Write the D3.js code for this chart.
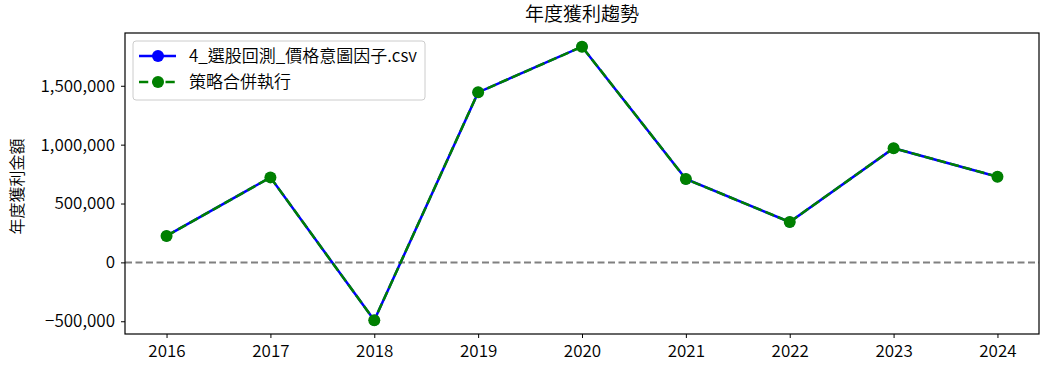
<!DOCTYPE html>
<html>
<head>
<meta charset="utf-8">
<script src="https://cdn.jsdelivr.net/npm/d3@7"></script>
<style>
  body { margin: 0; background: #fff; }
  svg text { font-family: "Noto Sans CJK TC", "Noto Sans", sans-serif; font-weight: 350; fill: #000; }
</style>
</head>
<body>
<div id="vizholder"></div>
<script>
var years = [2016, 2017, 2018, 2019, 2020, 2021, 2022, 2023, 2024];
var profitCsv = [225000, 722000, -492000, 1444000, 1832000, 708000, 343000, 970000, 728000];
var profitMerged = [225000, 722000, -492000, 1444000, 1832000, 708000, 343000, 970000, 728000];
var yTicks = [-500000, 0, 500000, 1000000, 1500000];
var seriesNames = ["4_選股回測_價格意圖因子.csv", "策略合併執行"];

var W = 1049, H = 370;
var margin = {top: 33, right: 10, bottom: 36, left: 125};
var width = W - margin.left - margin.right,
    height = H - margin.top - margin.bottom;

var svg = d3.select("#vizholder").append("svg")
  .attr("width", W).attr("height", H);

var g = svg.append("g")
  .attr("transform", "translate(" + margin.left + "," + margin.top + ")");

var x = d3.scaleLinear().domain([2016 - 0.4, 2024 + 0.4]).range([0, width]);
var all = profitCsv.concat(profitMerged);
var lo = d3.min(all), hi = d3.max(all), pad = (hi - lo) * 0.05;
var y = d3.scaleLinear().domain([lo - pad, hi + pad]).range([height, 0]);

// zero line
g.append("line")
  .attr("x1", 0).attr("x2", width)
  .attr("y1", y(0)).attr("y2", y(0))
  .attr("stroke", "#808080").attr("stroke-width", 2)
  .attr("stroke-dasharray", "7,3.5");

var line = d3.line()
  .x(function(d, i){ return x(years[i]); })
  .y(function(d){ return y(d); });

// blue solid series
g.append("path").datum(profitCsv)
  .attr("d", line).attr("fill", "none")
  .attr("stroke", "#0000ff").attr("stroke-width", 2.5);
g.selectAll(".dotA").data(profitCsv).enter().append("circle")
  .attr("cx", function(d, i){ return x(years[i]); })
  .attr("cy", function(d){ return y(d); })
  .attr("r", 5.5).attr("fill", "#0000ff");

// green dashed series
g.append("path").datum(profitMerged)
  .attr("d", line).attr("fill", "none")
  .attr("stroke", "#008000").attr("stroke-width", 2.5)
  .attr("stroke-dasharray", "9.25,4");
g.selectAll(".dotB").data(profitMerged).enter().append("circle")
  .attr("cx", function(d, i){ return x(years[i]); })
  .attr("cy", function(d){ return y(d); })
  .attr("r", 6).attr("fill", "#008000");

// axes
var fmt = d3.format(",");
var xAxis = g.append("g")
  .attr("transform", "translate(0," + height + ")")
  .call(d3.axisBottom(x).tickValues(years).tickFormat(d3.format("d")).tickSize(4).tickPadding(7));
var yAxis = g.append("g")
  .call(d3.axisLeft(y).tickValues(yTicks).tickFormat(fmt).tickSize(4).tickPadding(6));
[xAxis, yAxis].forEach(function(a){
  a.select(".domain").remove();
  a.selectAll("line").attr("stroke", "#000");
  a.selectAll("text").style("font-size", "17px").attr("fill", "#000");
});

// frame
g.append("rect").attr("width", width).attr("height", height)
  .attr("fill", "none").attr("stroke", "#000").attr("stroke-width", 1.2);

// title + y label
svg.append("text").attr("x", margin.left + width / 2).attr("y", 21)
  .attr("text-anchor", "middle").style("font-size", "19px").text("年度獲利趨勢");
svg.append("text")
  .attr("transform", "translate(23," + (margin.top + height / 2 + 3) + ") rotate(-90)")
  .attr("text-anchor", "middle").style("font-size", "16px").text("年度獲利金額");

// legend
var lg = g.append("g").attr("transform", "translate(8,8)");
lg.append("rect").attr("width", 292).attr("height", 59).attr("rx", 3)
  .attr("fill", "#fff").attr("fill-opacity", 0.8)
  .attr("stroke", "#cccccc");
var colors = ["#0000ff", "#008000"];
seriesNames.forEach(function(name, i){
  var yy = 15 + i * 26;
  var row = lg.append("g").attr("transform", "translate(6," + yy + ")");
  row.append("line").attr("x1", 0).attr("x2", 37).attr("y1", 0).attr("y2", 0)
    .attr("stroke", colors[i]).attr("stroke-width", 2.5)
    .attr("stroke-dasharray", i === 1 ? "9.25,4" : null);
  row.append("circle").attr("cx", 19).attr("cy", 0).attr("r", 6).attr("fill", colors[i]);
  row.append("text").attr("x", 50).attr("y", 0).attr("dy", "0.35em")
    .style("font-size", "17px").text(name);
});
</script>
</body>
</html>
